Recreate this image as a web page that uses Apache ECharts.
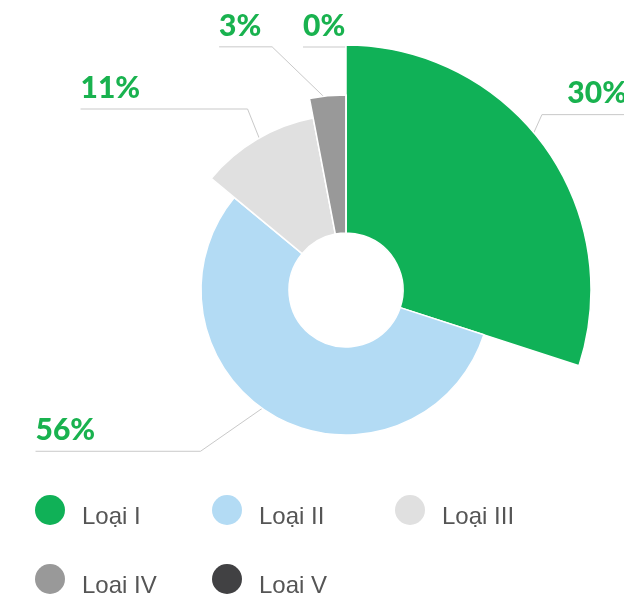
<!DOCTYPE html>
<html>
<head>
<meta charset="utf-8">
<script src="https://cdn.jsdelivr.net/npm/echarts/dist/echarts.min.js"></script>
<style>
  html, body { margin: 0; padding: 0; background: #ffffff; }
  #chart { width: 624px; height: 595px; }
</style>
</head>
<body>
<div id="chart"></div>
<script>
// Category names and their shares (percent)
const categories = ['Loại I', 'Loại II', 'Loại III', 'Loai IV', 'Loai V'];
const shares = [30, 56, 11, 3, 0];

// Styling
const sliceColors = ['#10b157', '#b3dbf4', '#e0e0e0', '#999999', '#414143'];
const outerRadii = [245, 145, 175, 195, 195];
const innerRadius = 57;
const center = [346, 290];
// Label guide shape per slice: start inset from the rim, elbow offset, horizontal run
const guides = [
  { inset: 30, dx: 22,  dy: -49, run: 85 },
  { inset: 34, dx: -92, dy: 64,  run: -165 },
  { inset: 17, dx: -18, dy: -45, run: -167 },
  { inset: 5,  dx: -56, dy: -54, run: -53 },
  { inset: 2,  dx: 6,   dy: -50, run: -49 }
];
// Legend grid: three columns, two rows
const legendColumns = 3;
const legendColumnLeft = [30, 207, 390];
const legendRowTop = [490, 559];

const chart = echarts.init(document.getElementById('chart'), null, { renderer: 'canvas' });

function makeLayout(k) {
  return function (params) {
    if (params.dataIndex !== k || !params.labelLinePoints) return {};
    const p0 = params.labelLinePoints[0];
    const vx = p0[0] - center[0];
    const vy = p0[1] - center[1];
    const len = Math.hypot(vx, vy) || 1;
    const g = guides[k];
    const s = [p0[0] - vx / len * g.inset, p0[1] - vy / len * g.inset];
    const e = [s[0] + g.dx, s[1] + g.dy];
    const t = [e[0] + g.run, e[1]];
    return {
      x: t[0],
      y: t[1] - 6,
      align: g.run > 0 ? 'right' : 'left',
      verticalAlign: 'bottom',
      labelLinePoints: [s, e, t]
    };
  };
}

// One pie layer per category: all layers share the same values (so the angles agree),
// and each layer paints only its own slice at its own radius.
const series = categories.map(function (_, k) {
  return {
    type: 'pie',
    id: 'layer' + k,
    center: center,
    radius: [innerRadius, outerRadii[k]],
    startAngle: 90,
    clockwise: true,
    silent: true,
    animation: false,
    avoidLabelOverlap: false,
    label: {
      position: 'outside',
      formatter: function (p) { return Math.round(p.percent) + '%'; },
      color: '#19b24f',
      fontFamily: 'Lato',
      fontWeight: 900,
      fontSize: 30
    },
    labelLine: {
      length: 10,
      length2: 10,
      lineStyle: { color: '#c9c9c9', width: 1 }
    },
    labelLayout: makeLayout(k),
    data: categories.map(function (name, i) {
      const own = i === k;
      return {
        name: name,
        value: shares[i],
        itemStyle: own
          ? { color: sliceColors[i], borderColor: '#ffffff', borderWidth: 1.5 }
          : { color: 'rgba(0,0,0,0)', borderWidth: 0 },
        label: { show: own },
        labelLine: { show: own }
      };
    })
  };
});

// One legend entry per grid cell; the name sits a little below the marker's centre
const legends = categories.map(function (name, i) {
  return {
    left: legendColumnLeft[i % legendColumns],
    top: legendRowTop[Math.floor(i / legendColumns)],
    icon: 'circle',
    itemWidth: 54,
    itemHeight: 30,
    selectedMode: false,
    formatter: '{t|{name}}',
    data: [{ name: name, itemStyle: { color: sliceColors[i], borderWidth: 0 } }],
    textStyle: {
      fontFamily: 'Liberation Sans, Arial, sans-serif',
      fontSize: 24,
      color: '#555555',
      rich: {
        t: {
          fontFamily: 'Liberation Sans, Arial, sans-serif',
          fontSize: 24,
          color: '#555555',
          padding: [14, 0, 0, 0]
        }
      }
    }
  };
});

chart.setOption({
  backgroundColor: '#ffffff',
  animation: false,
  legend: legends,
  series: series
});
</script>
</body>
</html>
